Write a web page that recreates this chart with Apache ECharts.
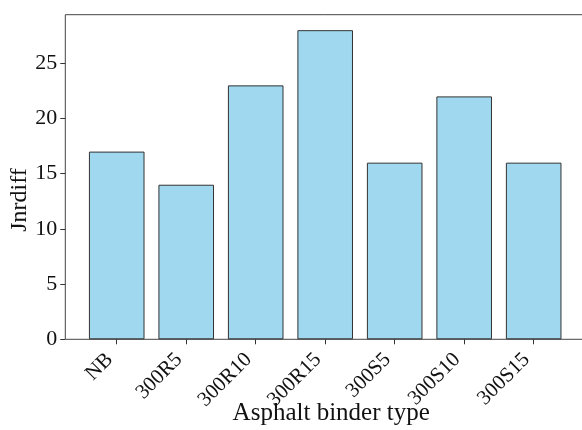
<!DOCTYPE html>
<html>
<head>
<meta charset="utf-8">
<script src="https://cdn.jsdelivr.net/npm/echarts@6/dist/echarts.min.js"></script>
<style>
  html, body { margin: 0; padding: 0; background: #fff; }
  #chart { width: 582px; height: 430px; }
</style>
</head>
<body>
<div id="chart"></div>
<script>
// Binder types on the x axis and their Jnrdiff values
const categories = ['NB', '300R5', '300R10', '300R15', '300S5', '300S10', '300S15'];
const jnrdiff = [17, 14, 23, 28, 16, 22, 16];
const yTicks = [0, 5, 10, 15, 20, 25];
const yMax = 29.4;

const font = '"Liberation Serif", "DejaVu Serif", serif';

const chart = echarts.init(document.getElementById('chart'), null, { renderer: 'canvas' });

// Frame grid spans the padded axes box; bar grid spans the category slots.
const frame = { left: 65.3, top: 14.7, width: 519.8, height: 324.6 };
const slot = frame.width / 7.48;

chart.setOption({
  animation: false,
  backgroundColor: '#ffffff',
  grid: [
    {
      left: frame.left, top: frame.top, width: frame.width, height: frame.height,
      outerBoundsMode: 'none', containLabel: false,
      show: true, borderColor: '#444', borderWidth: 1, backgroundColor: 'transparent'
    },
    {
      left: frame.left + 0.24 * slot,
      top: frame.top,
      width: 7 * slot,
      height: frame.height,
      outerBoundsMode: 'none', containLabel: false
    }
  ],
  xAxis: [
    { type: 'value', gridIndex: 0, show: false, min: 0, max: 1 },
    {
      type: 'category', gridIndex: 1, data: categories,
      axisLine: { show: false },
      axisTick: { show: true, alignWithLabel: true, length: 5, lineStyle: { color: '#333' } },
      axisLabel: {
        rotate: 45, fontFamily: font, fontSize: 21, color: '#111', margin: 10,
        interval: 0, padding: [0, 10, 0, 0]
      },
      name: 'Asphalt binder type', nameLocation: 'middle', nameGap: 62, nameMoveOverlap: false,
      nameTextStyle: { fontFamily: font, fontSize: 25, color: '#111', padding: [0, 0, 0, 12] }
    }
  ],
  yAxis: [
    {
      type: 'value', gridIndex: 0, min: 0, max: yMax,
      axisLine: { show: false },
      axisTick: { show: true, length: 5, customValues: yTicks, lineStyle: { color: '#333' } },
      axisLabel: { fontFamily: font, fontSize: 22, color: '#111', margin: 8, customValues: yTicks },
      splitLine: { show: false },
      name: 'Jnrdiff', nameLocation: 'middle', nameGap: 34, nameMoveOverlap: false,
      nameTextStyle: { fontFamily: font, fontSize: 24, color: '#111', padding: [0, 46, 0, 0] }
    },
    { type: 'value', gridIndex: 1, min: 0, max: yMax, show: false, splitLine: { show: false } }
  ],
  series: [
    {
      type: 'bar', xAxisIndex: 1, yAxisIndex: 1, data: jnrdiff,
      barWidth: '80%',
      itemStyle: { color: 'rgba(135,206,235,0.8)', borderColor: '#333', borderWidth: 1 }
    }
  ]
});
</script>
</body>
</html>
